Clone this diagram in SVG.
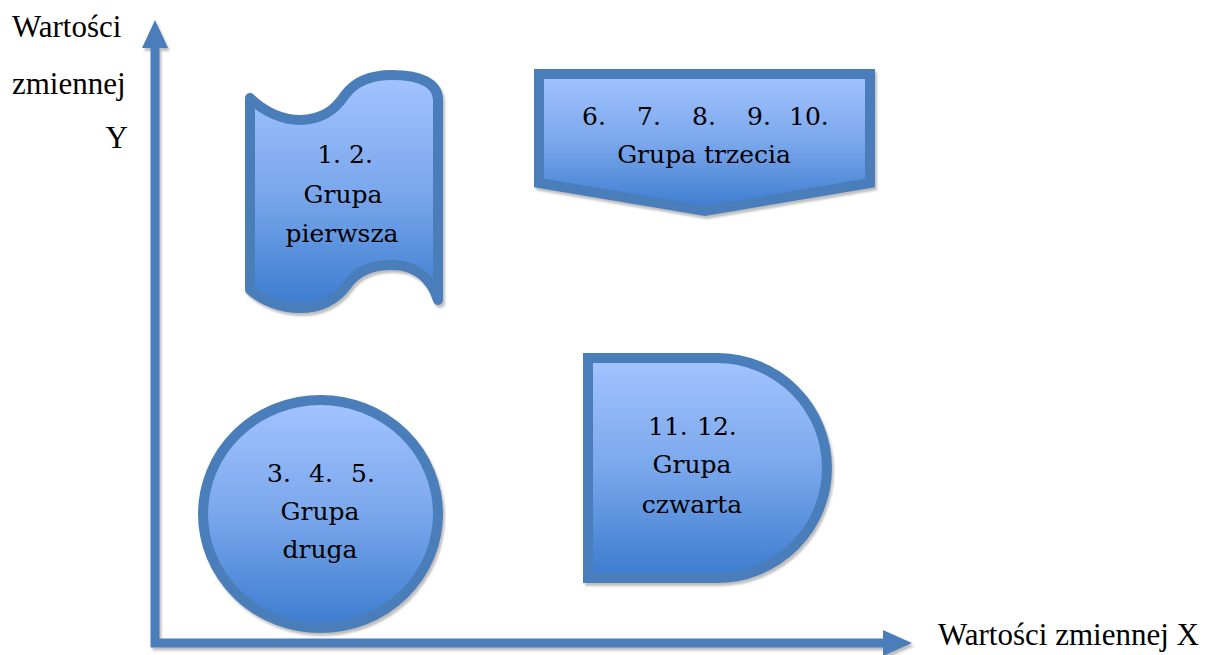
<svg xmlns="http://www.w3.org/2000/svg" width="1217" height="655" viewBox="0 0 1217 655">
  <defs>
    <linearGradient id="blueFill" x1="0" y1="0" x2="0" y2="1">
      <stop offset="0" stop-color="#a3c4ff"/>
      <stop offset="0.5" stop-color="#7aa7ec"/>
      <stop offset="1" stop-color="#3c7cce"/>
    </linearGradient>
    <filter id="shade" x="-10%" y="-10%" width="125%" height="125%">
      <feDropShadow dx="2" dy="3" stdDeviation="1.2" flood-color="#8a8a8a" flood-opacity="0.55"/>
    </filter>
  </defs>
  <style>
    .shape { fill: url(#blueFill); stroke: #4a7ebb; stroke-width: 10; stroke-linejoin: round; filter: url(#shade); }
    .axis { fill: #4a7ebb; filter: url(#shade); }
    .lbl { font-family: "DejaVu Serif", "Liberation Serif", serif; font-size: 25px; fill: #000; }
    .axlbl { font-family: "Liberation Serif", "Times New Roman", serif; font-size: 31px; fill: #000; }
  </style>

  <!-- axes -->
  <g id="axes">
    <path class="axis" d="M150.5,643 V48 H142 L155,20 L168,48 H159.5 V638.5 H883 V630 L912,643 L883,656 V647.5 H150.5 Z"/>
  </g>

  <!-- axis titles -->
  <g id="axis-labels">
    <text class="axlbl" x="12" y="37">Wartości</text>
    <text class="axlbl" x="12" y="94">zmiennej</text>
    <text class="axlbl" x="128" y="148" text-anchor="end">Y</text>
    <text class="axlbl" x="938" y="645">Wartości zmiennej X</text>
  </g>

  <!-- group 1: punched tape -->
  <g id="grupa-pierwsza">
    <path class="shape" d="M250,98 C264,112 283,120 300,120 C322,120 335,110 345,95 C356,80 372,75 392,75 C418,75 438,82 438,100 L438,300 C430,275 412,265 392,265 C372,265 356,272 347,285 C336,300 320,308 300,308 C280,308 262,300 250,290 Z"/>
    <text class="lbl" x="345" y="163" text-anchor="middle">1. 2.</text>
    <text class="lbl" x="343" y="203" text-anchor="middle">Grupa</text>
    <text class="lbl" x="342" y="242" text-anchor="middle">pierwsza</text>
  </g>

  <!-- group 2: circle -->
  <g id="grupa-druga">
    <ellipse class="shape" cx="320.5" cy="514" rx="117.5" ry="114"/>
    <text class="lbl" x="267" y="482">3.</text>
    <text class="lbl" x="309" y="482">4.</text>
    <text class="lbl" x="351" y="482">5.</text>
    <text class="lbl" x="320" y="520" text-anchor="middle">Grupa</text>
    <text class="lbl" x="320" y="558" text-anchor="middle">druga</text>
  </g>

  <!-- group 3: off-page connector -->
  <g id="grupa-trzecia">
    <path class="shape" style="stroke-linejoin:miter" d="M539,74 H870 V183 L705,211 L539,183 Z"/>
    <text class="lbl" x="582" y="125">6.</text>
    <text class="lbl" x="637" y="125">7.</text>
    <text class="lbl" x="692" y="125">8.</text>
    <text class="lbl" x="747" y="125">9.</text>
    <text class="lbl" x="789" y="125">10.</text>
    <text class="lbl" x="704" y="163" text-anchor="middle">Grupa trzecia</text>
  </g>

  <!-- group 4: delay shape -->
  <g id="grupa-czwarta">
    <path class="shape" style="stroke-linejoin:miter" d="M588,358 H717 A110,110 0 0 1 717,578 H588 Z"/>
    <text class="lbl" x="648" y="435">11.</text>
    <text class="lbl" x="697" y="435">12.</text>
    <text class="lbl" x="692" y="473" text-anchor="middle">Grupa</text>
    <text class="lbl" x="692" y="513" text-anchor="middle">czwarta</text>
  </g>
</svg>
